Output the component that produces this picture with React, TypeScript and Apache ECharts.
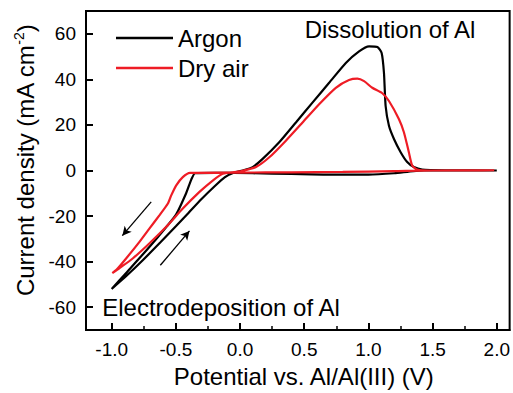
import React, { useEffect, useRef } from "react";
import * as echarts from "echarts";

// Potential (V) / current density (mA cm^-2)
const argonPotential = [
  -1.0, -0.88, -0.76, -0.62, -0.5, -0.4, -0.3, -0.2, -0.12, -0.05, 0.02, 0.098, 0.176, 0.305, 0.435, 0.564,
  0.694, 0.824, 0.927, 1.005, 1.07, 1.103, 1.121, 1.134, 1.16, 1.199, 1.251, 1.302, 1.354, 1.419, 1.6, 2.0,
  1.8, 1.5, 1.35, 1.2, 1.0, 0.7, 0.4, 0.1, -0.2, -0.35, -0.38, -0.42, -0.5, -0.63, -0.76, -0.88, -1.0,
];
const argonCurrent = [
  -52, -46, -39.5, -31.5, -24.5, -18.5, -12.5, -7, -3, -1, 0, 1.5, 5.1, 12.4, 21.1, 29.8,
  38.5, 47.2, 52.3, 54.5, 54.2, 51.6, 42.9, 28.3, 19.6, 13.8, 8.0, 3.7, 1.5, 0.4, 0.1, 0,
  0, 0.1, -0.3, -1.2, -1.8, -1.8, -1.5, -1.2, -1.0, -1.2, -4, -10, -19.5, -28.5, -37, -44.5, -52,
];
const airPotential = [
  -0.995, -0.938, -0.834, -0.705, -0.575, -0.446, -0.316, -0.213, -0.135, 0, 0.05, 0.124, 0.228, 0.357, 0.487,
  0.616, 0.746, 0.849, 0.914, 0.966, 1.03, 1.108, 1.16, 1.238, 1.277, 1.315, 1.341, 1.38, 1.47, 1.98,
  1.8, 1.5, 1.2, 0.8, 0.4, 0, -0.39, -0.446, -0.497, -0.536, -0.562, -0.627, -0.705, -0.782, -0.886, -0.963, -0.995,
];
const airCurrent = [
  -45, -42.8, -38.5, -31.9, -24.7, -16.7, -9.4, -4.4, -1.4, -0.4, 0.3, 1.5, 5.8, 13.1, 21.1,
  29.1, 36.3, 39.7, 40.3, 39.2, 36.3, 33.9, 30.5, 22.5, 16.7, 8.0, 2.2, 0.4, 0, 0.1,
  0, 0, -0.3, -0.6, -0.8, -0.9, -1, -2.9, -6.5, -10.9, -14.5, -19.6, -25.4, -31.2, -38.5, -43.6, -45,
];
const seriesNames = ["Argon", "Dry air"];
const xMajorTicks = [-1.0, -0.5, 0.0, 0.5, 1.0, 1.5, 2.0];
const xMinorTicks = [-0.75, -0.25, 0.25, 0.75, 1.25, 1.75];
const yMajorTicks = [-60, -40, -20, 0, 20, 40, 60];
// sweep-direction arrows: [fromV, fromI, toV, toI]
const arrowCathodic = [-0.692, -13.8, -0.917, -28.6];
const arrowAnodic = [-0.621, -41.6, -0.394, -26.5];

const FONT = "'Liberation Sans', Arial, sans-serif";

function zip(a: number[], b: number[]) {
  return a.map((v, i) => [v, b[i]]);
}

export default function App() {
  const ref = useRef<HTMLDivElement>(null);
  useEffect(() => {
    if (!ref.current) return;
    const chart = echarts.init(ref.current, undefined, { renderer: "svg" });
    chart.setOption({
      animation: false,
      backgroundColor: "#ffffff",
      textStyle: { fontFamily: FONT },
      grid: {
        left: 86,
        right: 2,
        top: 11,
        bottom: 60,
        show: true,
        borderColor: "#000",
        borderWidth: 2,
        backgroundColor: "transparent",
      },
      legend: {
        orient: "vertical",
        left: 111,
        top: 21,
        icon: "rect",
        itemWidth: 57,
        itemHeight: 2.5,
        itemGap: 6,
        data: seriesNames,
        textStyle: { fontSize: 24, color: "#000", fontFamily: FONT },
      },
      xAxis: [
        {
          type: "value",
          min: -1.2,
          max: 2.1,
          position: "bottom",
          axisLine: { show: true, onZero: false, lineStyle: { color: "#000", width: 2 } },
          axisTick: { show: true, inside: true, length: 7, customValues: xMajorTicks, lineStyle: { color: "#000", width: 2 } },
          axisLabel: {
            customValues: xMajorTicks,
            formatter: (v: number) => v.toFixed(1),
            fontSize: 19,
            color: "#000",
            margin: 10,
            fontFamily: FONT,
          },
          splitLine: { show: false },
          name: "Potential vs. Al/Al(III) (V)",
          nameLocation: "middle",
          nameGap: 34,
          nameTextStyle: { fontSize: 24, color: "#000", fontFamily: FONT, padding: [0, 0, 0, 12] },
        },
        {
          type: "value",
          min: -1.2,
          max: 2.1,
          position: "bottom",
          axisLine: { show: false, onZero: false },
          axisTick: { show: true, inside: true, length: 4, customValues: xMinorTicks, lineStyle: { color: "#000", width: 1.5 } },
          axisLabel: { show: false },
          splitLine: { show: false },
        },
      ],
      yAxis: {
        type: "value",
        min: -70,
        max: 70,
        axisLine: { show: true, onZero: false, lineStyle: { color: "#000", width: 2 } },
        axisTick: { show: true, inside: true, length: 7, customValues: yMajorTicks, lineStyle: { color: "#000", width: 2 } },
        axisLabel: { customValues: yMajorTicks, fontSize: 19, color: "#000", margin: 10, fontFamily: FONT },
        splitLine: { show: false },
        name: "Current density (mA cm{sup|-2})",
        nameLocation: "middle",
        nameGap: 47,
        nameTextStyle: {
          fontSize: 24,
          color: "#000",
          fontFamily: FONT,
          padding: [0, 0, 0, 20],
          rich: {
            sup: { fontSize: 14, color: "#000", fontFamily: FONT, padding: [0, 0, 13, 0] },
          },
        },
      },
      series: [
        {
          name: seriesNames[0],
          type: "line",
          data: zip(argonPotential, argonCurrent),
          symbol: "none",
          smooth: 0.2,
          lineStyle: { color: "#000", width: 2.2 },
          itemStyle: { color: "#000" },
          markLine: {
            silent: true,
            symbol: ["none", "arrow"],
            symbolSize: [7, 9],
            label: { show: false },
            lineStyle: { color: "#000", width: 1.3, type: "solid" },
            data: [
              [{ coord: [arrowCathodic[0], arrowCathodic[1]] }, { coord: [arrowCathodic[2], arrowCathodic[3]] }],
              [{ coord: [arrowAnodic[0], arrowAnodic[1]] }, { coord: [arrowAnodic[2], arrowAnodic[3]] }],
            ],
          },
        },
        {
          name: seriesNames[1],
          type: "line",
          data: zip(airPotential, airCurrent),
          symbol: "none",
          smooth: 0.2,
          lineStyle: { color: "#ee1c25", width: 2.2 },
          itemStyle: { color: "#ee1c25" },
        },
      ],
      graphic: [
        {
          type: "text",
          x: 390,
          y: 29,
          style: { text: "Dissolution of Al", fontSize: 24, fill: "#000", fontFamily: FONT, textAlign: "center", textVerticalAlign: "middle" },
        },
        {
          type: "text",
          x: 221,
          y: 307,
          style: { text: "Electrodeposition of Al", fontSize: 24, fill: "#000", fontFamily: FONT, textAlign: "center", textVerticalAlign: "middle" },
        },
      ],
    });
    return () => chart.dispose();
  }, []);
  return <div ref={ref} style={{ position: "fixed", left: 0, top: 0, width: 513, height: 393 }} />;
}
